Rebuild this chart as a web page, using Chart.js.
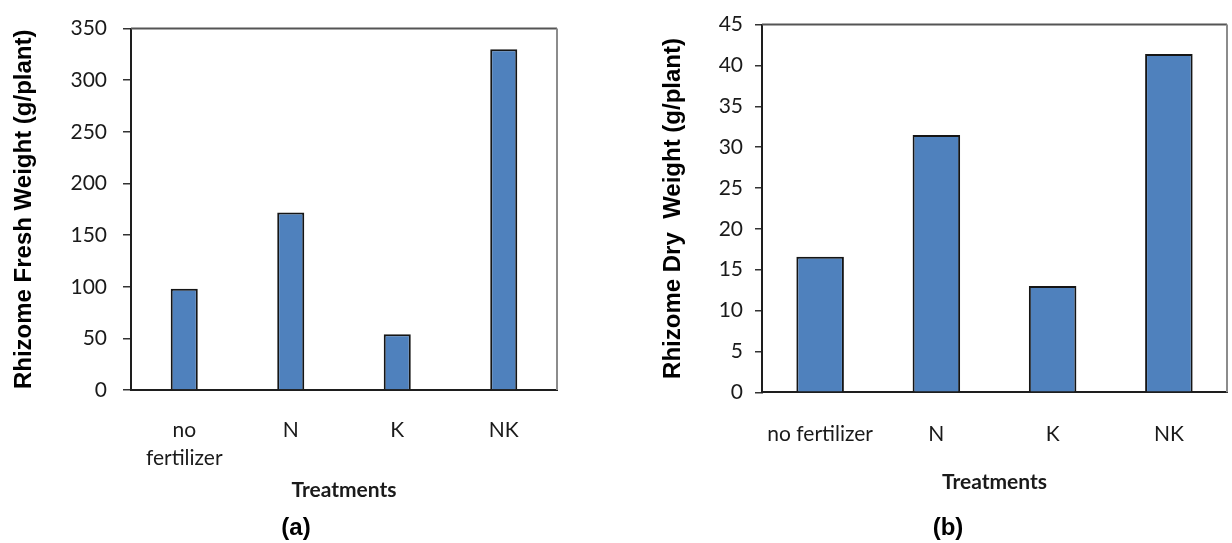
<!DOCTYPE html>
<html>
<head>
<meta charset="utf-8">
<title>Rhizome weight by fertilizer treatment</title>
<script src="https://cdn.jsdelivr.net/npm/chart.js@4/dist/chart.umd.min.js"></script>
<style>
  html, body { margin: 0; padding: 0; background: #ffffff; overflow: hidden; }
  #wrap { position: relative; width: 1232px; height: 543px; }
  canvas { position: absolute; top: 0; }
  #freshCanvas { left: 0; }
  #dryCanvas { left: 640px; }
  .caption {
    position: absolute;
    top: 514.7px;
    width: 100px;
    margin-left: -50px;
    text-align: center;
    font: bold 24px/24px "Liberation Sans", Arial, sans-serif;
    color: #000;
  }
</style>
</head>
<body>
<div id="wrap">
  <canvas id="freshCanvas" width="592" height="543"></canvas>
  <canvas id="dryCanvas" width="616" height="543"></canvas>
  <div class="caption" style="left:296px">(a)</div>
  <div class="caption" style="left:948px">(b)</div>
</div>
<script>
// Treatments on the x axis (panel a wraps the first label onto two lines)
const freshLabels = [['no', 'fertilizer'], 'N', 'K', 'NK'];
const dryLabels = ['no fertilizer', 'N', 'K', 'NK'];

// Rhizome fresh weight, g/plant
const freshWeight = [98, 172, 54, 330];
// Rhizome dry weight, g/plant
const dryWeight = [16.6, 31.5, 13.0, 41.4];

// Value axis ranges
const freshAxis = { max: 350, step: 50 };
const dryAxis = { max: 45, step: 5 };

const BAR_BLUE = '#4F81BD';
const INK = '#1a1a1a';

Chart.defaults.font.family = 'Lato, "Open Sans", sans-serif';
Chart.defaults.color = INK;

// Top and right edges of the plot box
const plotFrame = {
  id: 'plotFrame',
  beforeDatasetsDraw(chart) {
    const { ctx, chartArea: a } = chart;
    ctx.save();
    ctx.lineWidth = 2;
    ctx.strokeStyle = '#555555';
    ctx.beginPath();
    ctx.moveTo(a.left, a.top);
    ctx.lineTo(a.right, a.top);
    ctx.stroke();
    ctx.strokeStyle = '#8c8c8c';
    ctx.beginPath();
    ctx.moveTo(a.right, a.top);
    ctx.lineTo(a.right, a.bottom);
    ctx.stroke();
    ctx.restore();
  }
};

function makePanel(canvasId, cfg) {
  return new Chart(document.getElementById(canvasId), {
    type: 'bar',
    data: {
      labels: cfg.labels,
      datasets: [{
        data: cfg.values,
        backgroundColor: BAR_BLUE,
        borderColor: '#151515',
        borderWidth: 2,
        borderSkipped: 'bottom',
        categoryPercentage: 1,
        barPercentage: cfg.barPct
      }]
    },
    options: {
      responsive: false,
      animation: false,
      layout: { padding: cfg.padding },
      plugins: {
        legend: { display: false },
        tooltip: { enabled: false }
      },
      scales: {
        x: {
          grid: { display: false },
          border: { display: true, color: '#1e1e1e', width: 2 },
          ticks: {
            color: INK,
            padding: cfg.xTickPad,
            maxRotation: 0,
            autoSkip: false,
            font: { size: 21, lineHeight: cfg.xLineHeight }
          },
          title: {
            display: true,
            text: 'Treatments',
            color: INK,
            font: { size: 21, weight: 'bold', lineHeight: 1.2 },
            padding: { top: 0, bottom: cfg.xTitlePadBottom }
          },
          afterFit(scale) { scale.height = cfg.xHeight; }
        },
        y: {
          min: 0,
          max: cfg.axis.max,
          grid: {
            drawOnChartArea: false,
            drawTicks: true,
            tickLength: cfg.tickLength,
            color: '#333333',
            lineWidth: 1.5
          },
          border: { display: true, color: '#1e1e1e', width: 2 },
          ticks: {
            stepSize: cfg.axis.step,
            color: INK,
            padding: cfg.yTickPad,
            font: { size: 21 }
          },
          title: {
            display: true,
            text: cfg.yTitle,
            color: '#000',
            font: { family: '"Liberation Sans", Arial, sans-serif', size: 24, weight: 'bold', lineHeight: 1.2 },
            padding: { top: cfg.yTitlePadTop, bottom: 0 }
          },
          afterFit(scale) { scale.width = cfg.yWidth; }
        }
      }
    },
    plugins: [plotFrame]
  });
}

// (a) fresh weight
makePanel('freshCanvas', {
  labels: freshLabels,
  values: freshWeight,
  axis: freshAxis,
  yTitle: 'Rhizome Fresh Weight (g/plant)',
  barPct: 0.254,
  padding: { top: 21, right: 35, bottom: 27.2, left: 0 },
  yWidth: 131,
  xHeight: 125.8,
  xTickPad: 18,
  xLineHeight: 1.35,
  xTitlePadBottom: 13.3,
  tickLength: 8,
  yTickPad: 16,
  yTitlePadTop: 9.6
});

// (b) dry weight
makePanel('dryCanvas', {
  labels: dryLabels,
  values: dryWeight,
  axis: dryAxis,
  yTitle: 'Rhizome Dry  Weight (g/plant)',
  barPct: 0.409,
  padding: { top: 19.5, right: 29, bottom: 27.2, left: 0 },
  yWidth: 122,
  xHeight: 123.5,
  xTickPad: 21,
  xLineHeight: 1.2,
  xTitlePadBottom: 20.7,
  tickLength: 7,
  yTickPad: 12,
  yTitlePadTop: 18.6
});
</script>
</body>
</html>
